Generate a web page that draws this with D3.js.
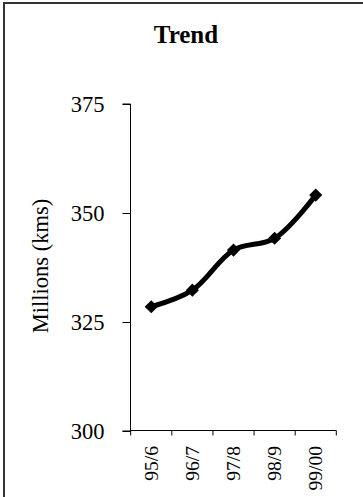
<!DOCTYPE html>
<html><head><meta charset="utf-8">
<script src="https://cdn.jsdelivr.net/npm/d3@7"></script>
<style>body{margin:0;background:#fff}svg{display:block}</style>
</head><body>
<script>
const categories = ["95/6","96/7","97/8","98/9","99/00"];
const values = [328.5, 332.3, 341.5, 344.2, 354.1];
const yTicks = [300, 325, 350, 375];
const title = "Trend";
const yTitle = "Millions (kms)";

const W = 363, H = 497;
const svg = d3.select("body").append("svg").attr("width", W).attr("height", H);
svg.append("rect").attr("width", W).attr("height", H).attr("fill", "#fff");
svg.append("rect").attr("x", 4).attr("y", 3).attr("width", W + 10).attr("height", H + 10)
  .attr("fill", "none").attr("stroke", "#333").attr("stroke-width", 2);

const font = "'Liberation Serif','Times New Roman',serif";
const x = d3.scaleBand().domain(categories).range([130.7, 336.3]);
const y = d3.scaleLinear().domain([300, 375]).range([431, 104]);

svg.append("text").attr("x", 186).attr("y", 43).attr("text-anchor", "middle")
  .attr("font-family", font).attr("font-weight", "bold").attr("font-size", 25).text(title);

const ya = svg.append("g").attr("transform", "translate(130.5,0)")
  .call(d3.axisLeft(y).tickValues(yTicks).tickSize(8).tickPadding(18));
ya.selectAll("text").attr("font-family", font).attr("font-size", 22.5).attr("fill", "#000");
ya.selectAll("line,path").attr("stroke", "#000").attr("stroke-width", 1);
ya.select(".domain").attr("d", `M-8,${y(375)}H0V${y(300)}H-8`);

const xa = svg.append("g").attr("transform", "translate(0,430.5)")
  .call(d3.axisBottom(x).tickSize(5).tickSizeOuter(5).tickValues([]));
xa.selectAll("line,path").attr("stroke", "#000").attr("stroke-width", 1);
const bounds = categories.map(c => x(c)).concat([x.range()[1]]);
xa.selectAll(".tk").data(bounds).enter().append("line").attr("class","tk")
  .attr("x1", d => d).attr("x2", d => d).attr("y1", 0).attr("y2", 5).attr("stroke", "#000");
xa.select(".domain").attr("d", `M${x.range()[0]},0H${x.range()[1]}`);
xa.selectAll(".lbl").data(categories).enter().append("text").attr("class","lbl")
  .attr("transform", d => `translate(${x(d) + x.bandwidth()/2 + 6.5},${15.5}) rotate(-90)`)
  .attr("text-anchor", "end").attr("font-family", font).attr("font-size", 19.5).attr("fill", "#000").text(d => d);

svg.append("text").attr("transform", `translate(48,266) rotate(-90)`).attr("text-anchor", "middle")
  .attr("font-family", font).attr("font-size", 22.5).text(yTitle);

const data = categories.map((c, i) => ({c, v: values[i]}));
const line = d3.line().x(d => x(d.c) + x.bandwidth()/2).y(d => y(d.v)).curve(d3.curveCatmullRom.alpha(0.5));
svg.append("path").datum(data).attr("d", line).attr("fill", "none").attr("stroke", "#000")
  .attr("stroke-width", 5).attr("stroke-linejoin", "round");
svg.selectAll(".mk").data(data).enter().append("path").attr("class", "mk")
  .attr("d", d3.symbol().type(d3.symbolDiamond2).size(110))
  .attr("transform", d => `translate(${x(d.c) + x.bandwidth()/2},${y(d.v)})`).attr("fill", "#000");
</script>
</body></html>
